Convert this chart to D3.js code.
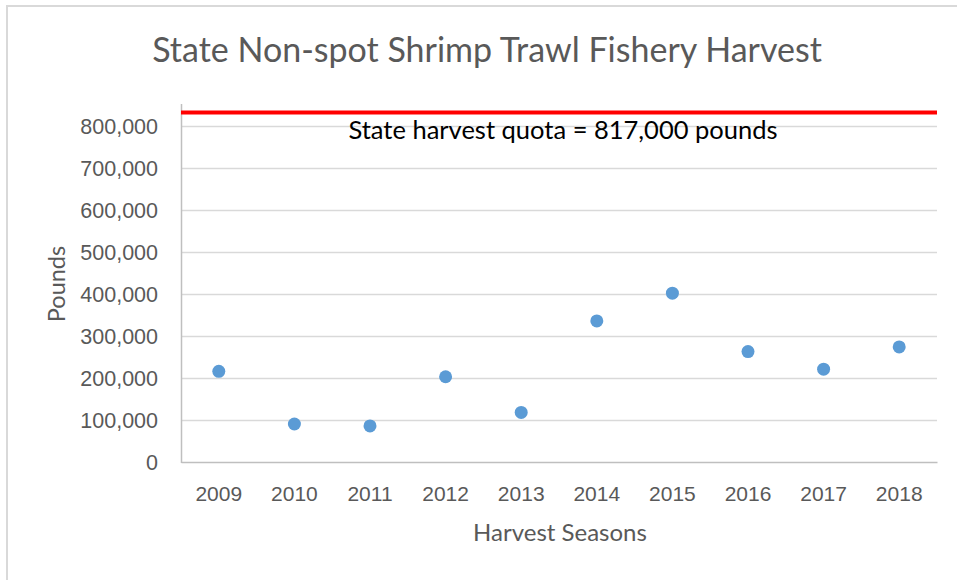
<!DOCTYPE html>
<html>
<head>
<meta charset="utf-8">
<script src="https://cdn.jsdelivr.net/npm/d3@7"></script>
<style>
  body { margin: 0; background: #fff; }
  svg { display: block; font-family: Lato, "Open Sans", sans-serif; }
</style>
</head>
<body>
<div id="chart"></div>
<script>
// harvest per season, pounds
var seasons = ["2009", "2010", "2011", "2012", "2013", "2014", "2015", "2016", "2017", "2018"];
var harvest = [216000, 90500, 86000, 203000, 118000, 336000, 402000, 263000, 221000, 274000];
var yTicks = [0, 100000, 200000, 300000, 400000, 500000, 600000, 700000, 800000];
var quotaLabel = "State harvest quota = 817,000 pounds";
var quotaLineAt = 832000; // where the red line sits on the value axis

var width = 957, height = 580;

var svg = d3.select("#chart").append("svg")
            .attr("width", width)
            .attr("height", height);

// outer chart border (only top/left visible in the frame)
svg.append("rect")
   .attr("x", 7).attr("y", 6)
   .attr("width", 980).attr("height", 600)
   .attr("fill", "none")
   .attr("stroke", "#d9d9d9")
   .attr("stroke-width", 2);

var x = d3.scaleBand()
          .domain(seasons)
          .range([181, 937]);

var y = d3.scaleLinear()
          .domain([0, 800000])
          .range([462, 126]);

var g = svg.append("g");

// gridlines
g.selectAll(".grid")
 .data(yTicks.slice(1))
 .enter()
 .append("line")
 .attr("x1", 181).attr("x2", 937)
 .attr("y1", function(d) { return Math.round(y(d)) + 0.5; })
 .attr("y2", function(d) { return Math.round(y(d)) + 0.5; })
 .attr("stroke", "#d9d9d9")
 .attr("stroke-width", 1.5);

// y axis labels
var yAxis = d3.axisLeft(y)
              .tickValues(yTicks)
              .tickFormat(d3.format(","))
              .tickSize(0)
              .tickPadding(23);

g.append("g")
 .attr("transform", "translate(181,0)")
 .call(yAxis)
 .call(function(a) { a.select(".domain").remove(); })
 .selectAll("text")
 .attr("fill", "#595959")
 .style("font-size", "21.5px")
 .attr("dy", "0.36em");

// vertical axis line
g.append("line")
 .attr("x1", 181.5).attr("x2", 181.5)
 .attr("y1", 104).attr("y2", 463)
 .attr("stroke", "#bfbfbf")
 .attr("stroke-width", 1.5);

// x axis
var xAxis = d3.axisBottom(x).tickSize(0).tickPadding(24);

g.append("g")
 .attr("transform", "translate(0,462)")
 .call(xAxis)
 .call(function(a) {
   a.select(".domain").attr("stroke", "#bfbfbf").attr("stroke-width", 1.5);
 })
 .selectAll("text")
 .attr("fill", "#595959")
 .style("font-size", "21px");

// quota line
g.append("line")
 .attr("x1", 181).attr("x2", 937)
 .attr("y1", y(quotaLineAt)).attr("y2", y(quotaLineAt))
 .attr("stroke", "#ff0000")
 .attr("stroke-width", 4);

g.append("text")
 .attr("x", 563)
 .attr("y", 139)
 .attr("text-anchor", "middle")
 .attr("fill", "#000")
 .style("font-size", "25.5px")
 .text(quotaLabel);

// points
g.selectAll(".dot")
 .data(harvest)
 .enter()
 .append("circle")
 .attr("cx", function(d, i) { return x(seasons[i]) + x.bandwidth() / 2; })
 .attr("cy", function(d) { return y(d); })
 .attr("r", 6.5)
 .attr("fill", "#5b9bd5");

// titles
svg.append("text")
   .attr("x", 487).attr("y", 62)
   .attr("text-anchor", "middle")
   .attr("fill", "#595959")
   .style("font-size", "34px")
   .text("State Non-spot Shrimp Trawl Fishery Harvest");

svg.append("text")
   .attr("x", 560).attr("y", 541)
   .attr("text-anchor", "middle")
   .attr("fill", "#595959")
   .style("font-size", "24px")
   .text("Harvest Seasons");

svg.append("text")
   .attr("transform", "translate(65,284)rotate(-90)")
   .attr("text-anchor", "middle")
   .attr("fill", "#595959")
   .style("font-size", "23.5px")
   .text("Pounds");
</script>
</body>
</html>
